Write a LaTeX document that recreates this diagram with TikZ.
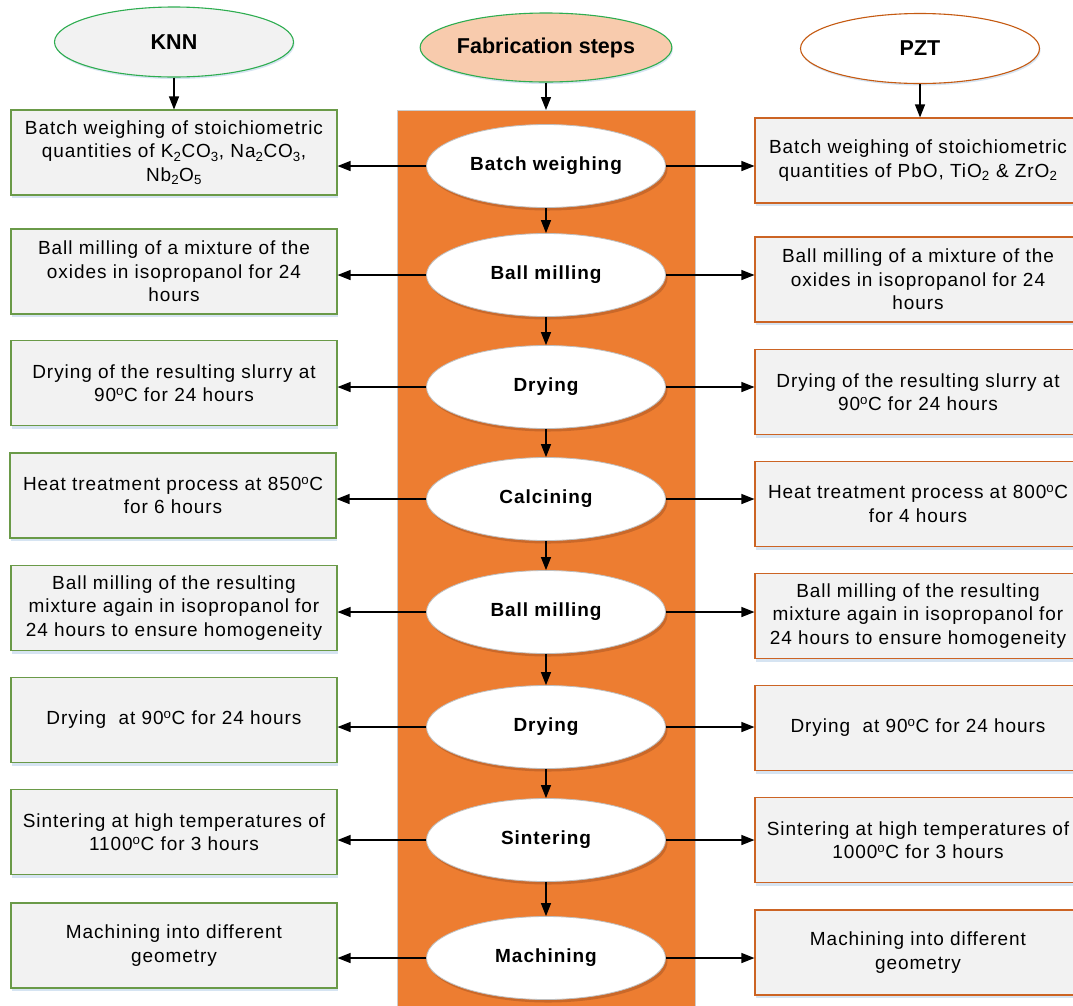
\documentclass[tikz,border=0pt]{standalone}
\usepackage{fontspec}
\setmainfont{Liberation Sans}
\newfontfamily\bodyfam{Liberation Sans}[LetterSpace=5]
\usetikzlibrary{shapes.geometric,shadows,arrows.meta}
\definecolor{bandorange}{HTML}{ED7D31}
\definecolor{fabfill}{HTML}{F8CBAD}
\definecolor{ellgreen}{HTML}{2EAD50}
\definecolor{boxgray}{HTML}{F2F2F2}
\definecolor{leftborder}{HTML}{6A9A48}
\definecolor{rightborder}{HTML}{CC6424}
\definecolor{pztborder}{HTML}{C55A11}
\definecolor{shadowblue}{HTML}{D6E4F2}
\definecolor{shadowbrown}{HTML}{A05020}
\tikzset{
  bodytext/.style={font=\bodyfam\fontsize{19}{23.5}\selectfont},
  lbox/.style={draw=leftborder, fill=boxgray, line width=1.1pt, minimum width=326pt, minimum height=85pt, align=center, bodytext,
    drop shadow={shadow xshift=1pt, shadow yshift=-3pt, fill=shadowblue, opacity=1}},
  rbox/.style={lbox, draw=rightborder},
  stepell/.style={ellipse, draw=black!25, fill=white, line width=0.8pt, minimum width=239pt, minimum height=83pt, inner sep=0pt,
    font=\bodyfam\bfseries\fontsize{19}{23}\selectfont,
    drop shadow={shadow xshift=2pt, shadow yshift=-3pt, fill=shadowbrown, opacity=0.45}},
  topell/.style={ellipse, line width=1.1pt, minimum width=239pt, minimum height=70pt, inner sep=0pt,
    font=\bfseries\fontsize{21.5}{25}\selectfont,
    drop shadow={shadow xshift=1pt, shadow yshift=-2pt, fill=shadowblue, opacity=1}},
  arr/.style={-{Triangle[length=13pt,width=10pt]}, line width=1.2pt, black},
}
\newcommand{\dg}{\textsuperscript{o}}
\newcommand{\sbs}[1]{\textsubscript{#1}}
\begin{document}
\begin{tikzpicture}[x=1pt,y=-1pt]
\useasboundingbox (0,0) rectangle (1073,1005);
\clip (0,0) rectangle (1073,1005);
\fill[white] (0,0) rectangle (1073,1005);
% central band
\node[draw=black!20, fill=bandorange, line width=0.8pt, minimum width=298pt, minimum height=920pt, anchor=north west, inner sep=0pt] (band) at (397,110) {};
% top ellipses
\node[topell, draw=ellgreen, fill=boxgray] (knn) at (174,42) {KNN};
\node[topell, draw=ellgreen, fill=fabfill, minimum height=69pt] (fab) at (546,47.5) {Fabrication steps};
\node[topell, draw=pztborder, fill=white] (pzt) at (920,48.5) {PZT};
% center steps
\node[stepell] (c1) at (546,166) {Batch weighing};
\node[stepell] (c2) at (546,275) {Ball milling};
\node[stepell] (c3) at (546,387) {Drying};
\node[stepell] (c4) at (546,499) {Calcining};
\node[stepell] (c5) at (546,612) {Ball milling};
\node[stepell] (c6) at (546,727) {Drying};
\node[stepell] (c7) at (546,840) {Sintering};
\node[stepell] (c8) at (546,958) {Machining};
% left boxes
\node[lbox] (l1) at (174,152.5) {Batch weighing of stoichiometric\\quantities of K\sbs{2}CO\sbs{3}, Na\sbs{2}CO\sbs{3},\\Nb\sbs{2}O\sbs{5}};
\node[lbox] (l2) at (174,271.5) {Ball milling of a mixture of the\\oxides in isopropanol for 24\\hours};
\node[lbox] (l3) at (174,383) {Drying of the resulting slurry at\\90\dg C for 24 hours};
\node[lbox] (l4) at (173,495.5) {Heat treatment process at 850\dg C\\for 6 hours};
\node[lbox] (l5) at (174,608) {Ball milling of the resulting\\mixture again in isopropanol for\\24 hours to ensure homogeneity};
\node[lbox] (l6) at (174,720) {Drying\ \ at 90\dg C for 24 hours};
\node[lbox] (l7) at (174,832) {Sintering at high temperatures of\\1100\dg C for 3 hours};
\node[lbox] (l8) at (174,945.5) {Machining into different\\geometry};
% right boxes
\node[rbox] (r1) at (918,160.5) {Batch weighing of stoichiometric\\quantities of PbO, TiO\sbs{2} \& ZrO\sbs{2}};
\node[rbox] (r2) at (918,279.5) {Ball milling of a mixture of the\\oxides in isopropanol for 24\\hours};
\node[rbox] (r3) at (918,392) {Drying of the resulting slurry at\\90\dg C for 24 hours};
\node[rbox] (r4) at (918,504) {Heat treatment process at 800\dg C\\for 4 hours};
\node[rbox] (r5) at (918,616) {Ball milling of the resulting\\mixture again in isopropanol for\\24 hours to ensure homogeneity};
\node[rbox] (r6) at (918,728) {Drying\ \ at 90\dg C for 24 hours};
\node[rbox] (r7) at (918,840) {Sintering at high temperatures of\\1000\dg C for 3 hours};
\node[rbox] (r8) at (918,952.5) {Machining into different\\geometry};
% top arrows
\draw[arr] (knn.south) -- (knn.south |- l1.north);
\draw[arr] (fab.south) -- (fab.south |- band.north);
\draw[arr] (pzt.south) -- (pzt.south |- r1.north);
% vertical arrows
\foreach \a/\b in {c1/c2,c2/c3,c3/c4,c4/c5,c5/c6,c6/c7,c7/c8}
  \draw[arr] (\a.south) -- (\b.north);
% horizontal arrows
\foreach \i in {1,...,8}{
  \draw[arr] (c\i.west) -- (c\i.west -| l\i.east);
  \draw[arr] (c\i.east) -- (c\i.east -| r\i.west);
}
\end{tikzpicture}
\end{document}
